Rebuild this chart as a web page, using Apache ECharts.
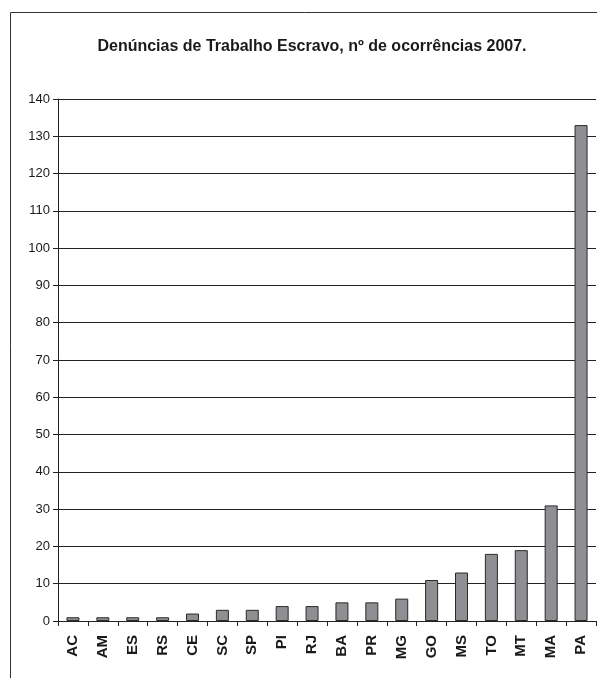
<!DOCTYPE html>
<html>
<head>
<meta charset="utf-8">
<style>
  html, body { margin: 0; padding: 0; background: #fff; }
  #chart { width: 597px; height: 678px; }
</style>
<script src="https://cdn.jsdelivr.net/npm/echarts@6/dist/echarts.min.js"></script>
</head>
<body>
<div id="chart"></div>
<script>
// Estados (UF) e número de denúncias registradas em 2007
const estados = ['AC', 'AM', 'ES', 'RS', 'CE', 'SC', 'SP', 'PI', 'RJ', 'BA', 'PR', 'MG', 'GO', 'MS', 'TO', 'MT', 'MA', 'PA'];
const ocorrencias = [1, 1, 1, 1, 2, 3, 3, 4, 4, 5, 5, 6, 11, 13, 18, 19, 31, 133];
const tituloGrafico = 'Denúncias de Trabalho Escravo, nº de ocorrências 2007.';

const chart = echarts.init(document.getElementById('chart'), null, { renderer: 'canvas' });

chart.setOption({
  animation: false,
  backgroundColor: '#ffffff',
  title: {
    text: tituloGrafico,
    left: 307,
    top: 34,
    textAlign: 'center',
    textStyle: {
      fontFamily: 'Liberation Sans, Arial, sans-serif',
      fontWeight: 'bold',
      fontSize: 16,
      color: '#1a1a1a'
    }
  },
  graphic: [{
    type: 'rect',
    shape: { x: 10.5, y: 12.5, width: 700, height: 700 },
    style: { fill: 'none', stroke: '#333', lineWidth: 1 },
    silent: true
  }],
  grid: { left: 58, top: 99, right: 1, bottom: 57, containLabel: false },
  xAxis: {
    type: 'category',
    data: estados,
    axisLine: { lineStyle: { color: '#222', width: 1 } },
    axisTick: { show: true, alignWithLabel: false, length: 5, lineStyle: { color: '#222' } },
    axisLabel: {
      rotate: 90,
      interval: 0,
      margin: 14,
      fontFamily: 'Liberation Sans, Arial, sans-serif',
      fontWeight: 'bold',
      fontSize: 15,
      color: '#1a1a1a'
    }
  },
  yAxis: {
    type: 'value',
    min: 0,
    max: 140,
    interval: 10,
    axisLine: { show: true, lineStyle: { color: '#222', width: 1 } },
    axisTick: { show: true, length: 5, lineStyle: { color: '#222' } },
    axisLabel: {
      margin: 8,
      fontFamily: 'Liberation Sans, Arial, sans-serif',
      fontSize: 13,
      color: '#1a1a1a'
    },
    splitLine: { show: true, lineStyle: { color: '#222', width: 1 } }
  },
  series: [{
    type: 'bar',
    data: ocorrencias,
    barWidth: 13,
    itemStyle: { color: '#8e8e93', borderColor: '#2a2a2a', borderWidth: 1 }
  }]
});
</script>
</body>
</html>
